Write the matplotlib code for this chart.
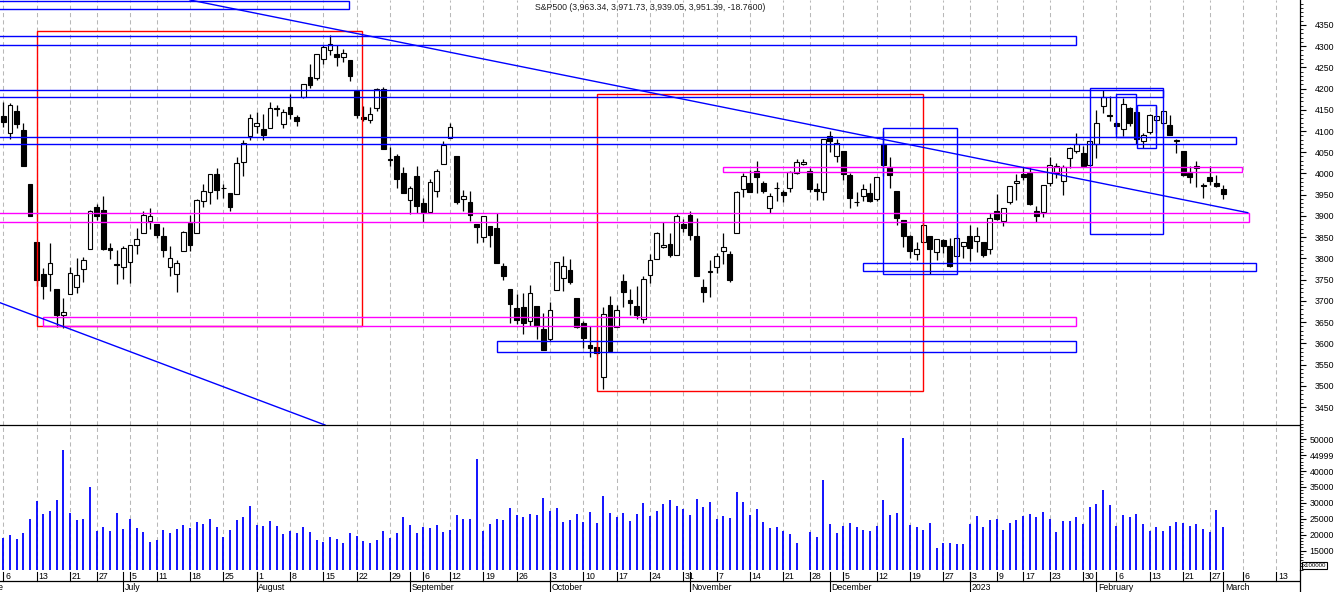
import numpy as np
import pandas as pd
import matplotlib
matplotlib.use("Agg")
import matplotlib.pyplot as plt
from matplotlib.patches import Rectangle
from matplotlib.ticker import MultipleLocator, FixedLocator, FixedFormatter

plt.rcParams['font.family'] = ['Liberation Sans', 'DejaVu Sans']

TITLE = "S&P500 (3,963.34, 3,971.73, 3,939.05, 3,951.39, -18.7600)"
FIRST_DAY = "2022-06-06"

# exchange holidays + one day that has no bar in the source data
HOLIDAYS = ["2022-06-20", "2022-07-04", "2022-09-05", "2022-11-24",
            "2022-12-26", "2023-01-02", "2023-01-16", "2023-02-20"]
MISSING_DAYS = ["2023-01-13"]

# daily OHLC, 2022-06-06 .. 2023-03-01 (one row per trading week in the layout)
opens = [
    4134.72, 4096.47, 4147.12, 4101.65, 3974.39,
    3838.15, 3763.52, 3764.05, 3728.18, 3665.90,
    3715.31, 3733.89, 3774.71, 3821.75,
    3920.76, 3913.00, 3825.09, 3785.99, 3781.00,
    3792.61, 3831.98, 3858.85, 3888.26,
    3880.94, 3851.95, 3779.67, 3763.99, 3818.00,
    3883.79, 3860.73, 3935.32, 3955.47, 3998.40,
    3965.72, 3953.22, 3951.43, 4026.13, 4087.33,
    4112.38, 4104.21, 4107.96, 4154.85, 4115.87,
    4155.93, 4133.11, 4181.02, 4227.40, 4225.02,
    4269.37, 4290.46, 4280.40, 4273.13, 4266.31,
    4195.08, 4133.09, 4126.55, 4153.26, 4198.74,
    4034.58, 4041.25, 4000.67, 3936.73, 3994.66,
    3930.89, 3909.43, 3959.94, 4022.94,
    4083.67, 4040.41, 3940.73, 3932.41, 3880.95,
    3849.91, 3875.23, 3871.40, 3782.36, 3727.14,
    3682.72, 3686.44, 3651.94, 3687.01, 3633.48,
    3609.78, 3726.46, 3753.25, 3771.97, 3706.74,
    3647.51, 3595.86, 3590.83, 3520.37, 3690.41,
    3638.65, 3746.26, 3703.11, 3689.05, 3657.10,
    3762.01, 3799.44, 3825.97, 3834.69, 3808.26,
    3881.85, 3901.79, 3852.90, 3733.25, 3766.98,
    3780.71, 3817.02, 3810.94, 3859.89, 3963.72,
    3977.97, 4006.41, 3976.82, 3919.26, 3966.39,
    3956.23, 3965.51, 4000.30, 4023.34,
    4005.36, 3964.19, 3957.18, 4087.14, 4040.17,
    4052.02, 3996.63, 3933.28, 3947.79, 3954.17,
    3939.29, 4069.38, 4015.54, 3958.37, 3890.91,
    3853.79, 3810.47, 3839.49, 3853.26, 3815.11,
    3843.34, 3829.56, 3805.45, 3829.06,
    3853.29, 3840.36, 3839.74, 3823.37,
    3910.82, 3888.57, 3932.35, 3977.57,
    3999.28, 4002.25, 3911.84, 3909.04,
    3978.14, 4001.74, 3982.71, 4036.08, 4053.72,
    4049.27, 4020.85, 4070.07, 4158.68, 4136.69,
    4119.57, 4105.35, 4153.47, 4144.25, 4077.39,
    4096.62, 4126.70, 4119.50, 4114.75, 4077.39,
    4052.35, 4001.83, 4018.60, 3973.24,
    3992.36, 3977.19, 3963.34,
]
highs = [
    4168.78, 4164.86, 4160.14, 4119.10, 3974.39,
    3838.15, 3778.18, 3837.48, 3728.18, 3707.71,
    3779.65, 3801.79, 3802.58, 3913.65,
    3927.72, 3945.86, 3836.50, 3818.99, 3829.82,
    3832.19, 3870.91, 3910.63, 3918.50,
    3880.94, 3873.41, 3829.44, 3796.41, 3863.62,
    3902.44, 3939.81, 3974.13, 3999.29, 4012.44,
    3975.30, 3953.22, 4039.56, 4078.95, 4140.15,
    4144.95, 4140.47, 4167.66, 4161.29, 4151.58,
    4186.62, 4137.30, 4211.03, 4257.91, 4280.47,
    4301.79, 4325.28, 4302.18, 4292.53, 4266.31,
    4195.08, 4159.77, 4156.56, 4200.54, 4203.04,
    4062.99, 4044.98, 4015.37, 3970.23, 4018.43,
    3942.55, 3987.89, 4010.50, 4076.81,
    4119.28, 4040.41, 3961.94, 3959.14, 3880.95,
    3900.45, 3876.01, 3907.07, 3790.20, 3727.14,
    3715.67, 3717.53, 3736.74, 3687.01, 3671.44,
    3698.35, 3791.92, 3806.91, 3797.93, 3706.74,
    3652.17, 3640.66, 3608.34, 3685.41, 3712.00,
    3689.73, 3762.79, 3728.58, 3736.00, 3757.89,
    3810.74, 3862.85, 3886.15, 3859.95, 3905.42,
    3893.73, 3911.79, 3894.44, 3750.59, 3796.34,
    3813.95, 3859.40, 3818.20, 3958.33, 4001.48,
    4008.97, 4028.84, 3983.09, 3954.33, 3979.89,
    3962.00, 4005.88, 4033.78, 4034.02,
    4012.27, 3976.77, 4080.11, 4100.51, 4080.48,
    4052.45, 4001.51, 3957.57, 3974.19, 3977.02,
    3990.71, 4100.96, 4039.01, 3958.37, 3890.91,
    3854.86, 3838.24, 3889.82, 3853.26, 3845.80,
    3846.65, 3848.32, 3858.19, 3839.85,
    3878.46, 3873.16, 3839.74, 3906.19,
    3950.57, 3919.83, 3970.07, 3997.76,
    4015.39, 4014.16, 3922.94, 3972.96,
    4039.31, 4023.92, 4019.55, 4061.57, 4094.21,
    4063.85, 4077.16, 4148.95, 4195.44, 4182.36,
    4124.63, 4176.54, 4156.85, 4156.23, 4094.36,
    4138.90, 4159.77, 4148.11, 4136.54, 4081.51,
    4052.35, 4017.37, 4028.30, 3978.25,
    4018.05, 3997.50, 3971.73,
]
lows = [
    4109.18, 4080.19, 4107.20, 4017.17, 3900.16,
    3734.30, 3705.68, 3722.30, 3639.77, 3636.87,
    3715.31, 3717.69, 3743.52, 3821.75,
    3889.66, 3820.14, 3799.02, 3738.67, 3752.10,
    3742.06, 3809.37, 3858.85, 3869.34,
    3847.22, 3802.36, 3759.07, 3721.56, 3817.18,
    3818.63, 3860.73, 3922.03, 3927.64, 3938.85,
    3943.46, 3910.74, 3951.43, 3992.97, 4079.22,
    4096.02, 4079.81, 4107.96, 4135.42, 4107.31,
    4128.97, 4112.09, 4177.26, 4201.41, 4219.78,
    4256.90, 4277.77, 4253.08, 4261.98, 4218.70,
    4129.86, 4124.03, 4119.97, 4147.59, 4057.66,
    4017.42, 3965.21, 3954.53, 3903.65, 3906.21,
    3886.75, 3906.03, 3944.81, 4022.94,
    4083.67, 3928.91, 3912.65, 3888.28, 3837.08,
    3838.50, 3827.54, 3789.49, 3749.45, 3647.47,
    3644.76, 3623.29, 3640.61, 3610.40, 3584.13,
    3604.93, 3726.46, 3722.66, 3739.22, 3636.66,
    3588.10, 3568.45, 3573.86, 3491.58, 3579.68,
    3638.65, 3686.53, 3666.51, 3656.44, 3647.42,
    3741.65, 3799.44, 3824.07, 3803.79, 3808.26,
    3863.18, 3843.80, 3758.68, 3698.15, 3708.84,
    3764.70, 3786.28, 3744.22, 3859.89, 3944.82,
    3956.40, 3953.17, 3954.34, 3906.54, 3935.98,
    3933.34, 3956.88, 3998.66, 4020.76,
    3955.77, 3937.65, 3938.58, 4050.87, 4026.63,
    3984.49, 3918.39, 3922.68, 3935.83, 3933.04,
    3935.30, 3993.03, 3965.65, 3879.45, 3827.91,
    3800.04, 3795.62, 3839.49, 3764.49, 3797.01,
    3813.22, 3780.78, 3805.45, 3800.34,
    3794.33, 3815.77, 3802.42, 3809.56,
    3890.42, 3877.29, 3928.54, 3937.56,
    3984.57, 3926.59, 3885.54, 3897.86,
    3971.64, 3989.79, 3949.06, 4013.29, 4048.70,
    4015.55, 4020.44, 4037.20, 4141.88, 4123.36,
    4093.38, 4088.39, 4111.67, 4069.67, 4060.79,
    4092.67, 4095.01, 4103.98, 4089.49, 4047.95,
    3995.19, 3976.90, 3969.19, 3943.08,
    3973.55, 3968.98, 3939.05,
]
closes = [
    4121.43, 4160.68, 4115.77, 4017.82, 3900.86,
    3749.63, 3735.48, 3789.99, 3666.77, 3674.84,
    3764.79, 3759.89, 3795.73, 3911.74,
    3900.11, 3821.55, 3818.83, 3785.38, 3825.33,
    3831.39, 3845.08, 3902.62, 3899.38,
    3854.43, 3818.80, 3801.78, 3790.38, 3863.16,
    3830.85, 3936.69, 3959.90, 3998.95, 3961.63,
    3966.84, 3921.05, 4023.61, 4072.43, 4130.29,
    4118.63, 4091.19, 4155.17, 4151.94, 4145.19,
    4140.06, 4122.47, 4210.24, 4207.27, 4280.15,
    4297.14, 4305.20, 4274.04, 4283.74, 4228.48,
    4137.99, 4128.73, 4140.77, 4199.12, 4057.66,
    4030.61, 3986.16, 3955.00, 3966.85, 3924.26,
    3908.19, 3979.87, 4006.18, 4067.36,
    4110.41, 3932.69, 3946.01, 3901.35, 3873.33,
    3899.89, 3855.93, 3789.93, 3757.99, 3693.23,
    3655.04, 3647.29, 3719.04, 3640.47, 3585.62,
    3678.43, 3790.93, 3783.28, 3744.52, 3639.66,
    3612.39, 3588.84, 3577.03, 3669.91, 3583.07,
    3677.95, 3719.98, 3695.16, 3665.78, 3752.75,
    3797.34, 3859.11, 3830.60, 3807.30, 3901.06,
    3871.98, 3856.10, 3759.69, 3719.89, 3770.55,
    3806.80, 3828.11, 3748.57, 3956.37, 3992.93,
    3957.25, 3991.73, 3958.79, 3946.56, 3965.34,
    3949.94, 4003.58, 4027.26, 4026.12,
    3963.94, 3957.63, 4080.11, 4076.57, 4071.70,
    3998.84, 3941.26, 3933.92, 3963.51, 3934.38,
    3990.56, 4019.65, 3995.32, 3895.75, 3852.36,
    3817.66, 3821.62, 3878.44, 3822.39, 3844.82,
    3829.25, 3783.22, 3849.28, 3839.50,
    3824.14, 3852.97, 3808.10, 3895.08,
    3892.09, 3919.25, 3969.61, 3983.17,
    3990.97, 3928.86, 3898.85, 3972.61,
    4019.81, 4016.95, 4016.22, 4060.43, 4070.56,
    4017.77, 4076.60, 4119.21, 4179.76, 4136.48,
    4111.08, 4164.00, 4117.86, 4081.50, 4090.46,
    4137.29, 4136.13, 4147.60, 4090.41, 4079.09,
    3997.34, 3991.05, 4012.32, 3970.04,
    3982.24, 3970.15, 3951.39,
]
# volume in units of 100000 (None = no value in the data)
volumes = [
    19100, 19900, 18600, 20500, 24900,
    30600, 26500, 27500, 30900, 46600,
    26800, 24600, 24900, 35000,
    21200, 22400, 21200, 26800, 21800,
    24900, 22100, 20800, 17700,
    18300, 21500, 20500, 21800, 23000,
    22100, 24000, 23400, 24900, 22400,
    19300, 21500, 24600, 25600, 29000,
    23000, 22700, 24300, 22700, 20200,
    21200, 20500, 22400, 20800, 18300,
    17700, 19300, 18600, 17400, 20500,
    19600, 18000, 17400, 18300, 21200,
    19000, 20500, 25600, 23000, 20500,
    22400, 22100, 23000, 20800,
    21500, 26200, 24900, 24900, 43800,
    21200, 23400, 24900, 24600, 28400,
    26200, 25600, 26500, 26200, 31500,
    27500, 28400, 24000, 24600, 26500,
    24000, 27100, 23700, 32200, 26800,
    25600, 26800, 24300, 26500, 30000,
    25900, 27500, 29700, 30900, 29000,
    28100, 26200, 31200, 28700, 30300,
    24900, 25900, 25300, 33400, 30300,
    26200, 28100, 24000, 22100, 22400,
    21200, 20200, 17400, None,
    20800, 19300, 37200, 23400, 20500,
    22700, 23700, 22400, 21500, 21200,
    22700, 30900, 26200, 26800, 50500,
    23000, 22400, 21500, 23700, 15800,
    17400, 17400, 17100, 17100,
    23400, 25900, 22400, 24600,
    24900, 21500, 23700, 24600,
    25900, 26500, 25600, 27100,
    24900, 20800, 24300, 24300, 25600,
    23400, 28700, 29700, 34100, 29300,
    22700, 26200, 25600, 26500, 23400,
    21200, 22400, 21200, 22700, 24000,
    23700, 22700, 23400, 21800,
    20800, 27800, 22400,
]

# drawings on the chart, x in bar index, y in index points
red_boxes = [(5.1, 53.85, 3641.0, 4334.7), (89.1, 137.9, 3487.9, 4186.4)]
blue_boxes = [
    (-3.0, 51.9, 4386.5, 4406.7),
    (-3.0, 160.9, 4301.7, 4322.9),
    (-3.0, 174.0, 4179.3, 4195.8),
    (-3.0, 185.0, 4068.7, 4085.2),
    (74.1, 160.9, 3579.0, 3604.9),
    (129.0, 187.9, 3769.7, 3788.6),
    (132.0, 143.0, 3762.7, 4106.4),
    (163.1, 174.0, 3856.8, 4200.5),
    (167.0, 170.0, 4085.2, 4186.4),
    (170.1, 173.0, 4059.3, 4160.5),
]
magenta_boxes = [
    (-3.0, 186.9, 3885.1, 3905.8),
    (6.0, 160.9, 3640.2, 3661.4),
    (108.0, 185.9, 4002.8, 4016.0),
]
trend_lines = [((28.0, 4408.4), (186.7, 3907.7)), ((-0.51, 3695.8), (48.25, 3407.9))]

W, H = 1336, 592
AXIS_X = 1300.3


def px_box(x0, y0, x1, y1):
    return [x0 / W, 1 - y1 / H, (x1 - x0) / W, (y1 - y0) / H]


# trading-day calendar -> one slot per bar, future days keep their slots
calendar = pd.bdate_range("2022-06-01", "2023-03-17")
calendar = calendar[~calendar.isin(pd.to_datetime(HOLIDAYS + MISSING_DAYS))]
slots = np.arange(len(calendar)) - calendar.get_loc(pd.Timestamp(FIRST_DAY))
weeks = calendar.to_period("W")
months = calendar.to_period("M")
week_start = np.r_[True, weeks[1:] != weeks[:-1]] & (slots >= 0)
month_start = np.r_[True, months[1:] != months[:-1]]

o, h, l, c = (np.array(v) for v in (opens, highs, lows, closes))
idx = np.arange(len(c))
vol = np.array([np.nan if v is None else v for v in volumes], dtype=float)

fig = plt.figure(figsize=(W / 100, H / 100), dpi=100)
ax = fig.add_axes(px_box(0, 0, AXIS_X, 425))
axv = fig.add_axes(px_box(0, 425, AXIS_X, 570))
axd = fig.add_axes(px_box(0, 570, AXIS_X, 592))

XLIM = (-0.51, 194.58)
for a in (ax, axv, axd):
    a.set_xlim(*XLIM)
    a.set_xticks([])
    a.patch.set_visible(False)
    for s in ("left", "top", "bottom"):
        a.spines[s].set_visible(False)
    a.spines["right"].set_linewidth(0.9)
ax.set_ylim(3407.9, 4408.4)
axv.set_ylim(8896, 54497)
axd.set_ylim(0, 22)
axd.set_yticks([])

# panel separator
fig.add_artist(plt.Line2D([0, AXIS_X / W], [1 - 425 / H] * 2, color="black", lw=0.9))

# weekly dashed grid
for s in slots[week_start]:
    for a in (ax, axv):
        a.axvline(s, color="#b8b8b8", lw=0.75, dashes=(4, 3), zorder=1)

# candles
up = c >= o
ax.vlines(idx, l, h, color="black", lw=0.9, zorder=3)
body_lo = np.minimum(o, c)
body_h = np.maximum(np.abs(c - o), 0.3)
ax.bar(idx[up], body_h[up], 0.72, bottom=body_lo[up], facecolor="white",
       edgecolor="black", lw=0.8, zorder=4)
ax.bar(idx[~up], body_h[~up], 0.72, bottom=body_lo[~up], facecolor="black",
       edgecolor="black", lw=0.8, zorder=4)

# drawings
for boxes, col in ((red_boxes, "#ff0000"), (blue_boxes, "#0000ff"), (magenta_boxes, "#ff00ff")):
    for x0, x1, lo, hi in boxes:
        ax.add_patch(Rectangle((x0, lo), x1 - x0, hi - lo, fill=False, ec=col, lw=1.0, zorder=5))
for (x0, y0), (x1, y1) in trend_lines:
    ax.plot([x0, x1], [y0, y1], color="#0000ff", lw=1.0, zorder=5)

# volume
ok = ~np.isnan(vol)
axv.vlines(idx[ok], 0, vol[ok], color="#0000ff", lw=1.3, zorder=3)

# right-hand scales
ax.yaxis.tick_right()
ax.yaxis.set_major_locator(FixedLocator(np.arange(3450, 4351, 50)))
ax.yaxis.set_minor_locator(MultipleLocator(10))
axv.yaxis.tick_right()
vol_ticks = np.arange(15000, 50001, 5000)
vol_labels = ["15000", "20000", "25000", "30000", "35000", "40000", "44999", "50000"]
axv.yaxis.set_major_locator(FixedLocator(vol_ticks))
axv.yaxis.set_major_formatter(FixedFormatter(vol_labels))
axv.yaxis.set_minor_locator(MultipleLocator(1000))
for a in (ax, axv):
    a.tick_params(axis="y", which="major", length=4.1, width=0.8, pad=20.2,
                  labelsize=6.3, direction="out")
    a.tick_params(axis="y", which="minor", length=2.2, width=0.6, direction="out")
    for t in a.yaxis.get_major_ticks():
        t.label2.set_horizontalalignment("right")

# date strip
axd.axhline(11, color="black", lw=0.9)
for s, d in zip(slots[week_start], calendar[week_start]):
    axd.plot([s, s], [11, 20.3], color="black", lw=0.8)
    axd.text(s + 0.25, 15.8, str(d.day), fontsize=6.3, ha="left", va="center")
for s, d in zip(slots[month_start], calendar[month_start]):
    name = str(d.year) if d.month == 1 else d.strftime("%B")
    axd.plot([s, s], [0, 20.3], color="black", lw=0.8)
    axd.text(s + 0.25, 4.3, name, fontsize=6.3, ha="left", va="center")

fig.text(650 / W, 1 - 7 / H, TITLE, ha="center", va="center", fontsize=6.3, color="#202020")
fig.text(1303 / W, 1 - 565.7 / H, "x100000", ha="left", va="center", fontsize=4.4,
         bbox=dict(boxstyle="square,pad=0.15", fc="white", ec="black", lw=0.8))

fig.savefig("out.png", dpi=100)
